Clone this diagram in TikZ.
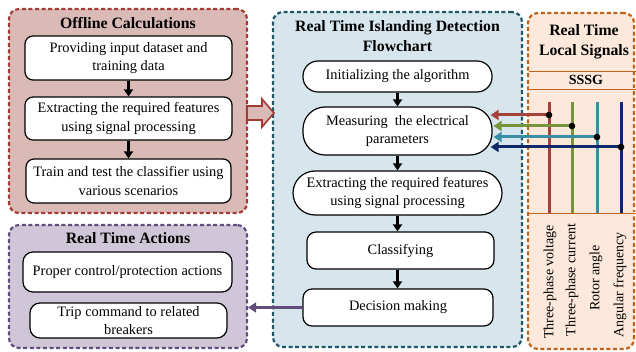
\documentclass[tikz,border=0pt]{standalone}
\usepackage{fontspec}
\setmainfont{Liberation Serif}
\usetikzlibrary{arrows.meta}
\newcommand\myBody{\fontsize{14.4}{18.5}\selectfont}
\newcommand\myTitle{\fontsize{15.8}{19.5}\selectfont\bfseries}
\newcommand\mySig{\fontsize{14}{16}\selectfont}
\definecolor{offB}{RGB}{163,59,53}
\definecolor{offF}{RGB}{218,186,183}
\definecolor{cenB}{RGB}{31,87,104}
\definecolor{cenF}{RGB}{214,230,236}
\definecolor{sigB}{RGB}{192,98,26}
\definecolor{sigF}{RGB}{252,233,219}
\definecolor{actB}{RGB}{98,76,125}
\definecolor{actF}{RGB}{207,199,215}
\definecolor{sRed}{RGB}{165,66,60}
\definecolor{sGreen}{RGB}{119,147,60}
\definecolor{sTeal}{RGB}{55,142,165}
\definecolor{sNavy}{RGB}{16,40,105}
\begin{document}
\begin{tikzpicture}[x=1pt,y=-1pt,
  panel/.style={line width=2.2pt, dash pattern=on 4pt off 2.6pt, rounded corners=10pt, inner sep=0pt},
  stepbox/.style={draw=black, line width=1.2pt, fill=white, align=center, font=\myBody, inner sep=0pt, rounded corners=8pt},
  ttl/.style={font=\myTitle, align=center, inner sep=0pt},
  blk/.style={-{Triangle[length=7pt,width=9pt]}, line width=2.2pt},
  sigline/.style={line width=3pt},
  sigarrow/.style={line width=3pt, -{Triangle[length=8pt,width=10pt]}},
  band/.style={draw=sigB, double=sigF, double distance=1pt, line width=0.8pt},
  siglabel/.style={rotate=90, font=\mySig, inner sep=0pt}
]
\path[use as bounding box] (0,0) rectangle (636,352);

% panels
\node[panel, draw=offB, fill=offF, minimum width=238pt, minimum height=204pt] (off) at (128,111) {};
\node[panel, draw=cenB, fill=cenF, minimum width=249pt, minimum height=335pt] (cen) at (397.5,179.5) {};
\node[panel, draw=sigB, fill=sigF, minimum width=106pt, minimum height=336pt] (sig) at (581,181) {};
\node[panel, draw=actB, fill=actF, minimum width=238pt, minimum height=123pt] (act) at (128,286.5) {};

% block arrow offline -> flowchart
\draw[line width=1.6pt, draw=offB, fill=offF, line join=miter]
  (247,106) -- (262,106) -- (262,99) -- (274,113) -- (262,127) -- (262,120) -- (247,120) -- cycle;

% Offline calculations
\node[ttl] (offT) at (128,23) {Offline Calculations};
\node[stepbox, minimum width=207pt, minimum height=44pt] (o1) at (128.5,58) {Providing input dataset and\\training data};
\node[stepbox, minimum width=207pt, minimum height=43pt] (o2) at (128.5,118.5) {Extracting the required features\\using signal processing};
\node[stepbox, minimum width=205pt, minimum height=44pt] (o3) at (128.5,181) {Train and test the classifier using\\various scenarios};
\draw[blk] (o1) -- (o2);
\draw[blk] (o2) -- (o3);

% Flowchart
\node[ttl] (cenT) at (397.5,36) {Real Time Islanding Detection\\Flowchart};
\node[stepbox, rounded corners=15pt, minimum width=189pt, minimum height=31pt] (c1) at (397.5,76.5) {Initializing the algorithm};
\node[stepbox, rounded corners=22pt, minimum width=189pt, minimum height=48pt] (c2) at (397.5,131) {Measuring\ \ the electrical\\parameters};
\node[stepbox, rounded corners=22pt, minimum width=209pt, minimum height=44pt] (c3) at (397.5,193) {Extracting the required features\\using signal processing};
\node[stepbox, rounded corners=9pt, minimum width=187pt, minimum height=37pt] (c4) at (400.5,250.5) {Classifying};
\node[stepbox, rounded corners=9pt, minimum width=190pt, minimum height=37pt] (c5) at (398,307.5) {Decision making};
\draw[blk] (c1) -- (c2);
\draw[blk] (c2) -- (c3);
\draw[blk] (c3.south) -- (c3.south |- c4.north);
\draw[blk] (c3.south |- c4.south) -- (c3.south |- c5.north);

% Local signals
\node[ttl] (sigT) at (584,42) {Real Time\\Local Signals};
\draw[band] (529,71) -- (636,71);
\draw[band] (529,89) -- (636,89);
\node[font=\fontsize{14}{16}\selectfont\bfseries, inner sep=0pt] (sssg) at (586,80) {SSSG};
\draw[band] (529,213) -- (636,213);

\draw[sigline, sRed]   (549,102) -- (549,213);
\draw[sigline, sGreen] (572,102) -- (572,213);
\draw[sigline, sTeal]  (597,102) -- (597,213);
\draw[sigline, sNavy]  (621,102) -- (621,213);

\coordinate (dR) at (549,115);
\coordinate (dG) at (572,126);
\coordinate (dT) at (597,137);
\coordinate (dN) at (621,147);
\draw[sigarrow, sRed]   (dR) -- ([xshift=-2pt]c2.east |- dR);
\draw[sigarrow, sGreen] (dG) -- ([xshift=1pt]c2.east |- dG);
\draw[sigarrow, sTeal]  (dT) -- ([xshift=1pt]c2.east |- dT);
\draw[sigarrow, sNavy]  (dN) -- ([xshift=-2pt]c2.east |- dN);
\foreach \d in {dR,dG,dT,dN} \fill[black] (\d) circle (3.3pt);

\node[siglabel] (lV) at (550,282) {Three-phase voltage};
\node[siglabel] (lC) at (572,280) {Three-phase current};
\node[siglabel] (lA) at (596,278) {Rotor angle};
\node[siglabel] (lF) at (620,285) {Angular frequency};

% Real time actions
\node[ttl] (actT) at (128,238) {Real Time Actions};
\node[stepbox, rounded corners=10pt, minimum width=209pt, minimum height=40pt] (a1) at (127.5,272) {Proper control/protection actions};
\node[stepbox, rounded corners=10pt, minimum width=197pt, minimum height=35pt] (a2) at (128.5,320.5) {Trip command to related\\breakers};
\draw[sigarrow, actB] (c5.west) -- (c5.west -| act.east);
\end{tikzpicture}
\end{document}
